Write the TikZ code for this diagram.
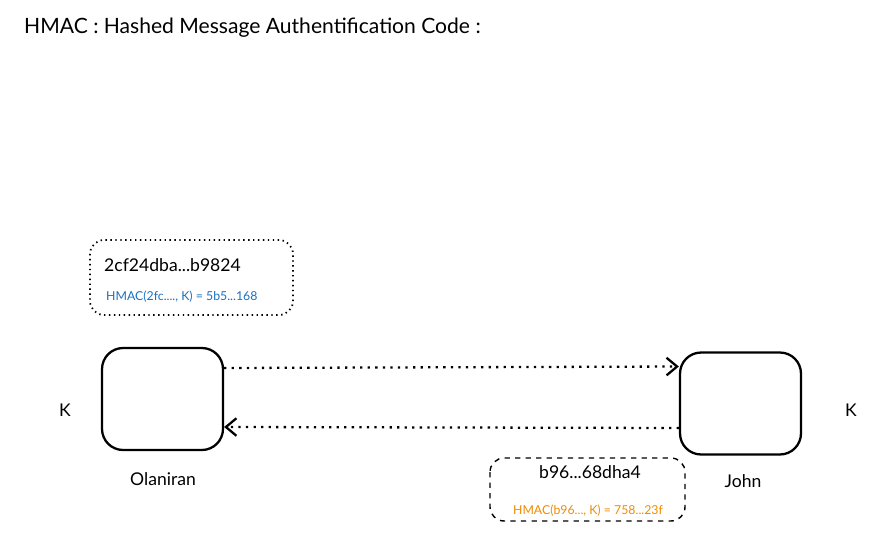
\documentclass[tikz,border=0pt]{standalone}
\usepackage{fontspec}
\setmainfont{Lato}
\usetikzlibrary{arrows.meta}
\definecolor{hblue}{HTML}{1971C2}
\definecolor{horange}{HTML}{F08C00}
\tikzset{
  party/.style={draw, line width=1.3pt, rounded corners=12pt, minimum width=2.42cm, minimum height=2.04cm},
  note/.style={draw, line width=0.8pt, rounded corners=8pt},
  msg/.style={line width=1.3pt, dash pattern=on 1.3pt off 3pt, -{Straight Barb[length=6pt,width=10pt]}},
}
\begin{document}
\begin{tikzpicture}[x=0.02cm, y=-0.02cm]
	\useasboundingbox (0, 0) rectangle (875, 541);
	\node[anchor=west, font=\large] (title) at (18, 28) {HMAC : Hashed Message Authentification Code :};

	\node[party] (olaniran) at (162.5, 399) {};
	\node[party] (john) at (740.5, 403.5) {};
	\node (kleft) at (65, 410) {K};
	\node (kright) at (851, 410) {K};
	\node (olaniranlbl) at (163, 479) {Olaniran};
	\node (johnlbl) at (743, 481) {John};

	% sent message and its mac
	\draw[note, dotted, line width=1pt] (90, 240) rectangle (293, 315);
	\node[anchor=west] (hashone) at (98, 265) {2cf24dba...b9824};
	\node[anchor=west, font=\scriptsize, text=hblue] (macone) at (100, 297) {HMAC(2fc...., K) = 5b5...168};

	% reply and its mac
	\draw[note, dashed] (490, 458) rectangle (685, 521);
	\node (hashtwo) at (590, 472) {b96...68dha4};
	\node[font=\scriptsize, text=horange] (mactwo) at (588, 511) {HMAC(b96..., K) = 758...23f};

	\draw[msg] ([yshift=0.62cm]olaniran.east) -- ([yshift=0.74cm]john.west);
	\draw[msg] ([yshift=-0.49cm]john.west) -- ([yshift=-0.56cm]olaniran.east);
\end{tikzpicture}
\end{document}
